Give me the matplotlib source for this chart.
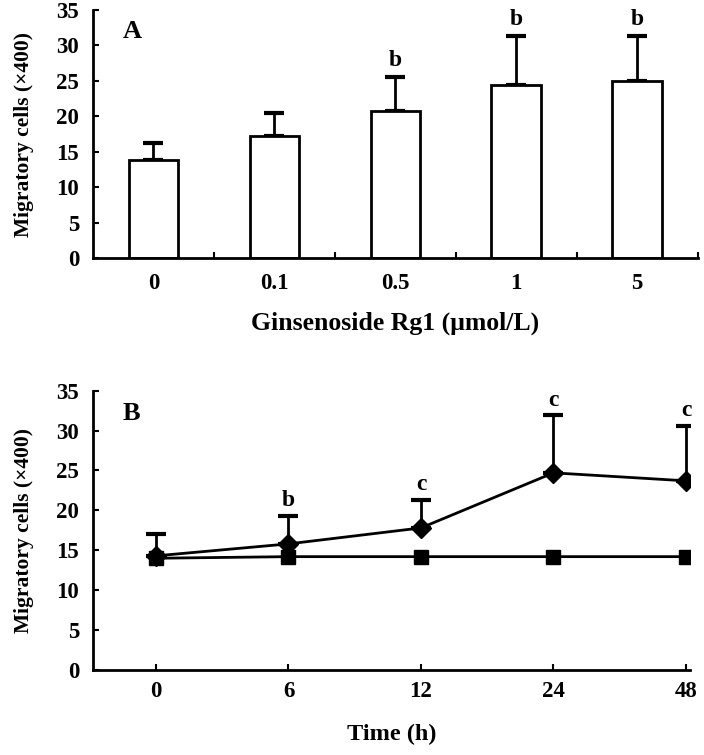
import matplotlib
matplotlib.use("Agg")
import matplotlib.pyplot as plt
import numpy as np

# Panel A : dose
doses = ["0", "0.1", "0.5", "1", "5"]
cells_a = [13.8, 17.2, 20.8, 24.4, 25.0]
err_a = [2.4, 3.2, 4.8, 6.9, 6.3]
sig_a = ["", "", "b", "b", "b"]

# Panel B : time course
times = ["0", "6", "12", "24", "48"]
rg1 = [14.3, 15.8, 17.8, 24.7, 23.7]
err_rg1 = [2.8, 3.5, 3.5, 7.2, 6.9]
ctrl = [14.0, 14.2, 14.2, 14.2, 14.2]
sig_b = ["", "b", "c", "c", "c"]

plt.rcParams['font.family'] = ['Liberation Serif', 'DejaVu Serif']
plt.rcParams['font.weight'] = 'bold'

fig = plt.figure(figsize=(7.04, 7.55), dpi=100)
ax1 = fig.add_axes([0.132, 0.658, 0.859, 0.329])
ax2 = fig.add_axes([0.132, 0.1126, 0.848, 0.370])

def style(ax):
    for s in ['top', 'right']:
        ax.spines[s].set_visible(False)
    for s in ['left', 'bottom']:
        ax.spines[s].set_linewidth(2)
    ax.set_ylim(0, 35)
    ax.set_yticks(np.arange(0, 36, 5))
    ax.tick_params(axis='y', direction='in', length=4, width=1.5, labelsize=16.5, pad=10)
    ax.set_ylabel("Migratory cells (×400)", fontsize=15.5, fontweight='bold', labelpad=16)

#! ---- A ----
xa = np.arange(len(doses))
ax1.bar(xa, cells_a, width=0.41, color='white', edgecolor='black', linewidth=2, zorder=2)
ax1.errorbar(xa, cells_a, yerr=[np.zeros(len(xa)), err_a], fmt='none', ecolor='black',
             elinewidth=2, capsize=7, capthick=3, zorder=1)
for i, s in enumerate(sig_a):
    if s:
        ax1.text(xa[i], cells_a[i] + err_a[i] + 0.8, s, ha='center', va='bottom',
                 fontsize=17, fontweight='bold')
style(ax1)
ax1.set_xlim(-0.5, 4.5)
ax1.set_xticks(xa)
ax1.set_xticklabels(doses)
ax1.set_xticks(xa + 0.5, minor=True)
ax1.tick_params(axis='x', which='major', length=0, labelsize=16.5, pad=11)
ax1.tick_params(axis='x', which='minor', direction='in', length=4, width=1.5)
ax1.set_xlabel("Ginsenoside Rg1 (μmol/L)", fontsize=18.5, fontweight='bold', labelpad=12)
ax1.text(0.05, 0.96, "A", transform=ax1.transAxes, fontsize=19, fontweight='bold', va='top')

#! ---- B ----
xb = np.arange(len(times))
ax2.errorbar(xb, rg1, yerr=[np.zeros(len(xb)), err_rg1], fmt='none', ecolor='black',
             elinewidth=2, capsize=7, capthick=3, zorder=1)
ax2.plot(xb, rg1, color='black', lw=2, marker='D', markersize=10, zorder=3)
ax2.plot(xb, ctrl, color='black', lw=2, marker='s', markersize=9.5, zorder=3)
for i, s in enumerate(sig_b):
    if s:
        ax2.text(xb[i], rg1[i] + err_rg1[i] + 0.6, s, ha='center', va='bottom',
                 fontsize=17, fontweight='bold')
style(ax2)
ax2.set_xlim(-0.476, 4.03)
ax2.set_xticks(xb)
ax2.set_xticklabels(times)
ax2.tick_params(axis='x', direction='in', length=4, width=1.5, labelsize=16.5, pad=8)
ax2.set_xlabel("Time (h)", fontsize=17.5, fontweight='bold', labelpad=16)
ax2.text(0.05, 0.96, "B", transform=ax2.transAxes, fontsize=19, fontweight='bold', va='top')

fig.savefig("out.png", dpi=100)
